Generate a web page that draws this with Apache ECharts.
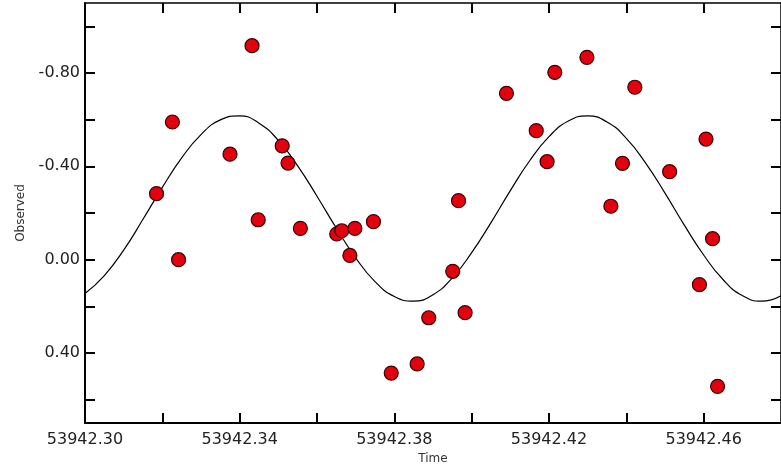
<!DOCTYPE html>
<html>
<head>
<meta charset="utf-8">
<script src="https://cdn.jsdelivr.net/npm/echarts@6/dist/echarts.min.js"></script>
<style>
  html, body { margin: 0; padding: 0; background: #fff; }
  #chart { width: 781px; height: 475px; }
</style>
</head>
<body>
<div id="chart"></div>
<script>
// observed points: time (HJD) / magnitude
const obsTime = [
  53942.3185, 53942.3226, 53942.3242, 53942.3375, 53942.3432, 53942.3448,
  53942.3510, 53942.3525, 53942.3557, 53942.3651, 53942.3664, 53942.3698,
  53942.3685, 53942.3746, 53942.3792, 53942.3859, 53942.3889, 53942.3951,
  53942.3966, 53942.3983, 53942.4090, 53942.4167, 53942.4195, 53942.4215,
  53942.4298, 53942.4360, 53942.4390, 53942.4422, 53942.4512, 53942.4589,
  53942.4606, 53942.4623, 53942.4636
]
const obsMag = [
  -0.283, -0.590, 0.000, -0.452, -0.917, -0.171,
  -0.488, -0.414, -0.134, -0.110, -0.124, -0.134,
  -0.018, -0.163, 0.486, 0.447, 0.249, 0.050,
  -0.253, 0.227, -0.713, -0.553, -0.420, -0.803,
  -0.867, -0.229, -0.413, -0.739, -0.377, 0.107,
  -0.517, -0.090, 0.543
]

// fitted curve
const fitTime = [
  53942.300, 53942.305, 53942.310, 53942.315, 53942.320, 53942.325,
  53942.330, 53942.335, 53942.340, 53942.345, 53942.350, 53942.355,
  53942.360, 53942.365, 53942.370, 53942.375, 53942.380, 53942.385,
  53942.390, 53942.395, 53942.400, 53942.405, 53942.410, 53942.415,
  53942.420, 53942.425, 53942.430, 53942.435, 53942.440, 53942.445,
  53942.450, 53942.455, 53942.460, 53942.465, 53942.470, 53942.475,
  53942.480
]
const fitMag = [
  0.145, 0.068, -0.041, -0.173, -0.310, -0.436,
  -0.536, -0.599, -0.616, -0.585, -0.511, -0.402,
  -0.272, -0.135, -0.008, 0.094, 0.158, 0.178,
  0.150, 0.078, -0.030, -0.159, -0.296, -0.424,
  -0.527, -0.594, -0.616, -0.590, -0.520, -0.414,
  -0.285, -0.148, -0.020, 0.085, 0.154, 0.178,
  0.155
]

const xTicks = [53942.30, 53942.32, 53942.34, 53942.36, 53942.38, 53942.40, 53942.42, 53942.44, 53942.46]
const xLabels = [53942.30, 53942.34, 53942.38, 53942.42, 53942.46]
const yTicks = [-1.0, -0.8, -0.6, -0.4, -0.2, 0.0, 0.2, 0.4, 0.6]
const yLabels = [-0.8, -0.4, 0.0, 0.4]

const chart = echarts.init(document.getElementById('chart'))
const font = 'DejaVu Sans'
const tick = { show: true, inside: true, length: 10, lineStyle: { color: '#000', width: 2 } }

chart.setOption({
  animation: false,
  grid: { left: 85, right: -4, top: 3, bottom: 52 },
  xAxis: [
    {
      type: 'value', position: 'bottom', min: 53942.30, max: 53942.48,
      name: 'Time', nameLocation: 'middle', nameGap: 30,
      nameTextStyle: { fontFamily: font, fontSize: 12, color: '#333' },
      axisLine: { show: true, onZero: false, lineStyle: { color: '#000', width: 2 } },
      axisTick: Object.assign({ customValues: xTicks }, tick),
      axisLabel: {
        customValues: xLabels, margin: 9, fontFamily: font, fontSize: 16, color: '#222',
        formatter: v => v.toFixed(2)
      },
      splitLine: { show: false }
    },
    {
      type: 'value', position: 'top', min: 53942.30, max: 53942.48,
      axisLine: { show: true, onZero: false, lineStyle: { color: '#000', width: 1.5 } },
      axisTick: Object.assign({ customValues: xTicks }, tick),
      axisLabel: { show: false },
      splitLine: { show: false }
    }
  ],
  yAxis: [
    {
      type: 'value', position: 'left', inverse: true, min: -1.1, max: 0.7,
      name: 'Observed', nameLocation: 'middle', nameGap: 58, nameRotate: 90,
      nameTextStyle: { fontFamily: font, fontSize: 12, color: '#333' },
      axisLine: { show: true, onZero: false, lineStyle: { color: '#000', width: 2 } },
      axisTick: Object.assign({ customValues: yTicks }, tick),
      axisLabel: {
        customValues: yLabels, margin: 5, fontFamily: font, fontSize: 16, color: '#222',
        formatter: v => v.toFixed(2)
      },
      splitLine: { show: false }
    },
    {
      type: 'value', position: 'right', inverse: true, min: -1.1, max: 0.7,
      axisLine: { show: true, onZero: false, lineStyle: { color: '#000', width: 1.5 } },
      axisTick: Object.assign({ customValues: yTicks }, tick),
      axisLabel: { show: false },
      splitLine: { show: false }
    }
  ],
  series: [
    {
      type: 'line', smooth: true, showSymbol: false, z: 1,
      data: fitTime.map((t, i) => [t, fitMag[i]]),
      lineStyle: { color: '#000', width: 1.2 }
    },
    {
      type: 'scatter', symbol: 'circle', symbolSize: 14, z: 3,
      data: obsTime.map((t, i) => [t, obsMag[i]]),
      itemStyle: { color: '#e3000f', borderColor: '#3a0000', borderWidth: 1.2, opacity: 1 }
    }
  ]
})
</script>
</body>
</html>
